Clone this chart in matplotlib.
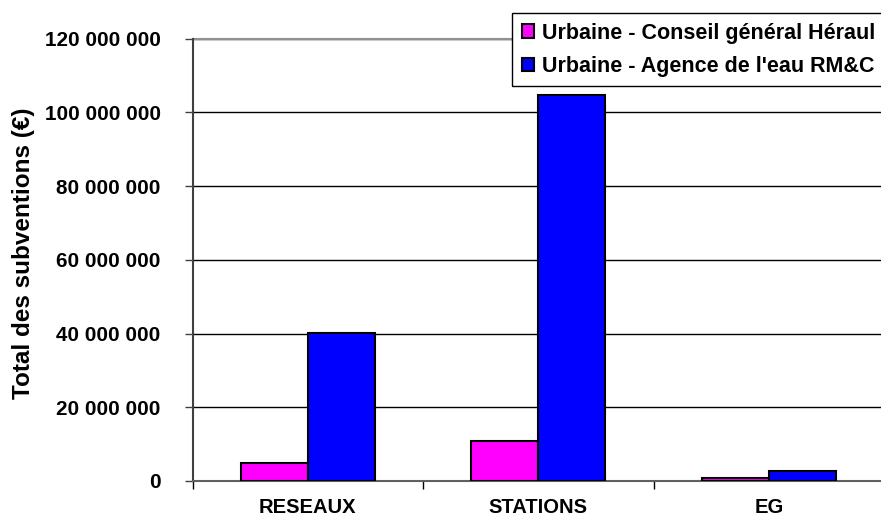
import numpy as np
import matplotlib
matplotlib.use("Agg")
import matplotlib.pyplot as plt
from matplotlib.ticker import FuncFormatter, FixedLocator

# Subventions totals per work category (euros)
categories = ["RESEAUX", "STATIONS", "EG"]
conseil_general = [5.0e6, 10.9e6, 0.8e6]
agence_eau = [40.1e6, 104.6e6, 2.7e6]
series_labels = ["Urbaine - Conseil général Héraul", "Urbaine - Agence de l'eau RM&C"]
y_ticks = [0, 20e6, 40e6, 60e6, 80e6, 100e6, 120e6]

plt.rcParams["font.family"] = ["Liberation Sans", "DejaVu Sans"]
plt.rcParams["font.weight"] = "bold"

fig = plt.figure(figsize=(8.81, 5.20), dpi=100)
ax_w = 884 - 192.5
ax = fig.add_axes([192.5 / 881, 1 - 481 / 520, ax_w / 881, (481 - 38.6) / 520])

x = np.arange(len(categories))
width = 0.29
b1 = ax.bar(x - width / 2, conseil_general, width, color="#FF00FF", edgecolor="black",
            linewidth=1.5, label=series_labels[0], zorder=3)
b2 = ax.bar(x + width / 2, agence_eau, width, color="#0000FF", edgecolor="black",
            linewidth=1.5, label=series_labels[1], zorder=3)

ax.set_xlim(-0.5, len(categories) - 0.5)
ax.set_ylim(0, 120e6)
ax.yaxis.set_major_locator(FixedLocator(y_ticks))
ax.yaxis.set_major_formatter(FuncFormatter(lambda v, p: "{:,.0f}".format(v).replace(",", " ")))
ax.yaxis.grid(True, color="black", linewidth=1.0, zorder=0)
ax.set_axisbelow(True)

# category labels in the middle, ticks on the boundaries
ax.set_xticks(x)
ax.set_xticklabels(categories, fontsize=14.5, fontweight="bold")
ax.tick_params(axis="x", length=0, pad=12)
ax.set_xticks(np.arange(-0.5, len(categories), 1.0), minor=True)
ax.tick_params(axis="x", which="minor", length=6, width=1.0, color="black", direction="out")
ax.tick_params(axis="y", length=6, width=1.0, color="#404040", pad=17, labelsize=14.9)
for lbl in ax.get_yticklabels():
    lbl.set_fontweight("bold")

for side in ("top", "right"):
    ax.spines[side].set_visible(False)
ax.spines["left"].set_color("#404040")
ax.spines["left"].set_linewidth(1.5)
ax.spines["bottom"].set_color("#606060")
ax.spines["bottom"].set_linewidth(1.5)
# top gridline is drawn lighter, as the plot frame
ax.axhline(120e6, color="#909090", linewidth=1.5, zorder=1, clip_on=False)

ax.set_ylabel("Total des subventions (€)", fontsize=17.5, fontweight="bold")
ax.yaxis.set_label_coords(-157 / ax_w, 0.515)

leg = fig.legend(handles=[b1, b2], labels=series_labels, loc="upper left",
                 bbox_to_anchor=(512 / 881, 1 - 13 / 520), fontsize=15.5,
                 frameon=True, fancybox=False, edgecolor="black", framealpha=1,
                 handlelength=0.57, handleheight=0.57, handletextpad=0.37,
                 borderpad=0.45, labelspacing=0.56, borderaxespad=0)
leg.get_frame().set_linewidth(1.0)
for t in leg.get_texts():
    t.set_fontweight("bold")
for h in leg.legend_handles:
    h.set_linewidth(1.5)

fig.savefig("out.png", dpi=100)
